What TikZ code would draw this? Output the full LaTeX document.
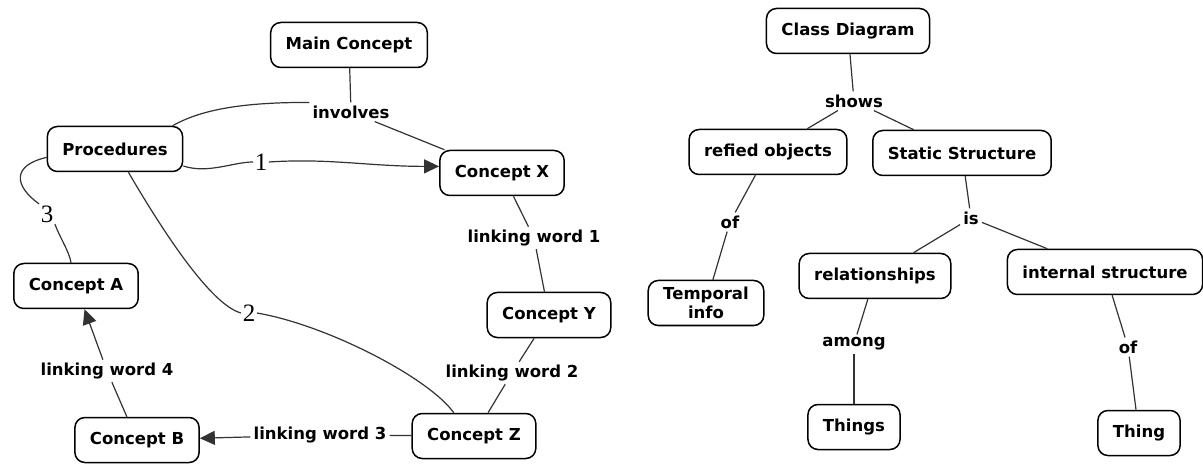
\documentclass[tikz,border=0pt]{standalone}
\usepackage{fontspec}
\setmainfont{DejaVu Sans}
\newfontfamily\digitfont{Liberation Serif}
\usepackage{tikz}
\usetikzlibrary{arrows.meta}

\begin{document}
\begin{tikzpicture}[x=1pt, y=-1pt,
		concept/.style={draw, line width=1.5pt, rounded corners=10pt, minimum height=45pt, inner xsep=15pt, align=center, font=\fontsize{16.5}{19}\selectfont\bfseries},
		link/.style={inner sep=3pt, font=\fontsize{16.5}{19}\selectfont\bfseries},
		num/.style={inner sep=1.5pt, font=\fontsize{25}{25}\selectfont\digitfont},
		conn/.style={draw=black!80, line width=1.2pt},
		arr/.style={conn, -{Triangle[length=15pt,width=14pt]}}]
				\fill[white] (0,0) rectangle (1203,465);
				\useasboundingbox (0,0) rectangle (1203,465);
				
				% left map
				\node[concept] (main) at (349,45) {Main Concept};
				\node[link] (inv) at (351,112) {involves};
				\node[concept] (proc) at (115,149) {Procedures};
				\node[concept] (cx) at (502,173) {Concept X};
				\node[num] (one) at (261,162) {1};
				\node[num] (three) at (47,214) {3};
				\node[num] (two) at (249,313) {2};
				\node[concept] (ca) at (76,286) {Concept A};
				\node[link] (lw1) at (534,238) {linking word 1};
				\node[concept] (cy) at (549,315) {Concept Y};
				\node[link] (lw2) at (512,373) {linking word 2};
				\node[concept] (cz) at (474,436) {Concept Z};
				\node[link] (lw3) at (320,435) {linking word 3};
				\node[concept] (cb) at (137,440) {Concept B};
				\node[link] (lw4) at (107,371) {linking word 4};
				
				\draw[conn] (main) -- (inv);
				\draw[conn] (inv) -- (cx);
				\draw[conn] (proc.22) .. controls +(35,-20) and +(-50,0) .. (inv.north west);
				\draw[conn] (proc.-14) .. controls +(25,8) and +(-20,0) .. (one.west);
				\draw[arr]  (one.east) .. controls +(60,-4) and +(-70,0) .. (cx.174);
				\draw[conn] (proc.187) .. controls +(-35,8) and +(-25,-18) .. (three.north west);
				\draw[conn] (three.south east) .. controls +(4,12) and +(-2,-12) .. (ca.102);
				\draw[conn] (proc.-60) .. controls +(35,60) and +(-30,-8) .. (two.west);
				\draw[conn] (two.east) .. controls +(70,12) and +(-25,-35) .. (cz.131);
				\draw[conn] (cx) -- (lw1);
				\draw[conn] (lw1) -- (cy);
				\draw[conn] (cy) -- (lw2);
				\draw[conn] (lw2) -- (cz);
				\draw[conn] (cz) -- (lw3);
				\draw[arr]  (lw3) -- (cb);
				\draw[conn] (cb) -- (lw4);
				\draw[arr]  (lw4) -- (ca);
				
				% right map
				\node[concept] (cd) at (848,31) {Class Diagram};
				\node[link] (shows) at (854,101) {shows};
				\node[concept] (refied) at (768,152) {refied objects};
				\node[concept] (static) at (962,153) {Static Structure};
				\node[link] (of1) at (730,222) {of};
				\node[link] (is) at (971,218) {is};
				\node[concept] (temporal) at (706,303) {Temporal\\info};
				\node[concept] (rel) at (875,276) {relationships};
				\node[concept] (internal) at (1105,272) {internal structure};
				\node[link] (among) at (854,344) {among};
				\node[link] (of2) at (1128,347) {of};
				\node[concept] (things) at (854,427) {Things};
				\node[concept] (thing) at (1139,433) {Thing};
				
				\draw[conn] (cd) -- (shows);
				\draw[conn] (shows) -- (refied);
				\draw[conn] (shows) -- (static);
				\draw[conn] (refied) -- (of1);
				\draw[conn] (of1) -- (temporal);
				\draw[conn] (static) -- (is);
				\draw[conn] (is) -- (rel);
				\draw[conn] (is) -- (internal);
				\draw[conn] (rel) -- (among);
				\draw[conn] (among) -- (things);
				\draw[conn] (internal) -- (of2);
				\draw[conn] (of2) -- (thing);
			\end{tikzpicture}
\end{document}
